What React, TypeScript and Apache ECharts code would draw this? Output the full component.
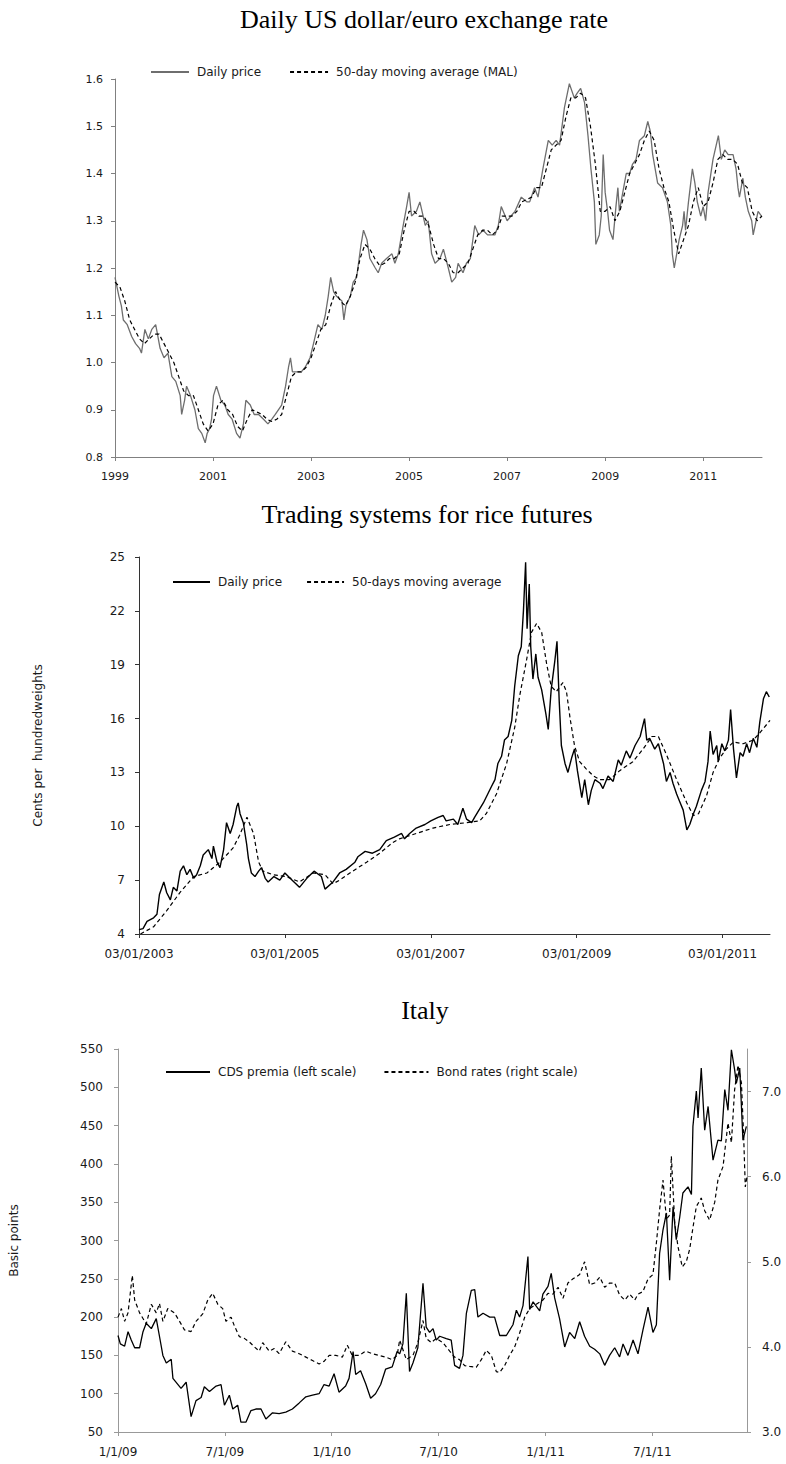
import { useEffect, useRef } from "react";
import * as echarts from "echarts";

// ---------- Chart 1: Daily US dollar/euro exchange rate ----------
const usdDaily: [number, number][] = [
  [1999.0, 1.18], [1999.04, 1.16], [1999.08, 1.14], [1999.13, 1.12], [1999.17, 1.09], [1999.25, 1.08],
  [1999.34, 1.055], [1999.42, 1.04], [1999.5, 1.03], [1999.54, 1.02], [1999.61, 1.07], [1999.68, 1.05],
  [1999.75, 1.07], [1999.83, 1.08], [1999.92, 1.03], [2000.0, 1.01], [2000.08, 1.02], [2000.16, 0.97],
  [2000.24, 0.96], [2000.33, 0.93], [2000.36, 0.89], [2000.42, 0.92], [2000.46, 0.95], [2000.54, 0.93],
  [2000.63, 0.9], [2000.7, 0.86], [2000.77, 0.85], [2000.84, 0.83], [2000.88, 0.85], [2000.93, 0.86],
  [2000.97, 0.88], [2001.01, 0.93], [2001.07, 0.95], [2001.16, 0.92], [2001.24, 0.91], [2001.31, 0.89],
  [2001.39, 0.88], [2001.48, 0.85], [2001.55, 0.84], [2001.62, 0.87], [2001.67, 0.92], [2001.76, 0.91],
  [2001.84, 0.89], [2001.93, 0.89], [2002.03, 0.88], [2002.12, 0.87], [2002.2, 0.88], [2002.27, 0.89],
  [2002.4, 0.91], [2002.48, 0.95], [2002.54, 0.99], [2002.58, 1.01], [2002.62, 0.98], [2002.71, 0.98],
  [2002.8, 0.98], [2002.88, 0.99], [2002.98, 1.01], [2003.05, 1.04], [2003.14, 1.08], [2003.22, 1.07],
  [2003.29, 1.1], [2003.35, 1.14], [2003.4, 1.18], [2003.46, 1.15], [2003.52, 1.14], [2003.63, 1.13],
  [2003.67, 1.09], [2003.71, 1.12], [2003.8, 1.14], [2003.86, 1.17], [2003.93, 1.18], [2004.02, 1.25],
  [2004.07, 1.28], [2004.14, 1.26], [2004.2, 1.22], [2004.31, 1.2], [2004.37, 1.19], [2004.44, 1.21],
  [2004.54, 1.22], [2004.65, 1.23], [2004.71, 1.21], [2004.78, 1.23], [2004.88, 1.29], [2004.95, 1.33],
  [2005.0, 1.36], [2005.05, 1.31], [2005.15, 1.32], [2005.22, 1.34], [2005.33, 1.29], [2005.39, 1.3],
  [2005.46, 1.23], [2005.53, 1.21], [2005.63, 1.22], [2005.7, 1.24], [2005.8, 1.2], [2005.87, 1.17],
  [2005.95, 1.18], [2006.0, 1.21], [2006.1, 1.19], [2006.17, 1.21], [2006.25, 1.22], [2006.34, 1.29],
  [2006.42, 1.27], [2006.51, 1.28], [2006.6, 1.27], [2006.75, 1.27], [2006.82, 1.29], [2006.88, 1.33],
  [2007.0, 1.3], [2007.08, 1.31], [2007.16, 1.32], [2007.29, 1.35], [2007.4, 1.34], [2007.46, 1.34],
  [2007.56, 1.37], [2007.63, 1.35], [2007.73, 1.41], [2007.84, 1.47], [2007.92, 1.46], [2008.0, 1.47],
  [2008.07, 1.46], [2008.17, 1.54], [2008.27, 1.59], [2008.37, 1.56], [2008.43, 1.57], [2008.5, 1.58],
  [2008.58, 1.55], [2008.65, 1.48], [2008.71, 1.41], [2008.78, 1.34], [2008.81, 1.25], [2008.88, 1.27],
  [2008.92, 1.31], [2008.96, 1.44], [2009.0, 1.36], [2009.05, 1.32], [2009.09, 1.28], [2009.16, 1.26],
  [2009.22, 1.33], [2009.26, 1.37], [2009.29, 1.32], [2009.36, 1.36], [2009.43, 1.4], [2009.5, 1.4],
  [2009.56, 1.42], [2009.63, 1.43], [2009.7, 1.47], [2009.8, 1.48], [2009.87, 1.51], [2009.92, 1.49],
  [2009.97, 1.44], [2010.07, 1.38], [2010.17, 1.37], [2010.27, 1.34], [2010.34, 1.29], [2010.37, 1.23],
  [2010.41, 1.2], [2010.46, 1.23], [2010.51, 1.26], [2010.58, 1.29], [2010.61, 1.32], [2010.64, 1.28],
  [2010.7, 1.34], [2010.78, 1.41], [2010.83, 1.38], [2010.88, 1.34], [2010.95, 1.31], [2011.0, 1.33],
  [2011.05, 1.3], [2011.1, 1.36], [2011.2, 1.43], [2011.31, 1.48], [2011.37, 1.43], [2011.44, 1.45],
  [2011.51, 1.44], [2011.61, 1.44], [2011.67, 1.41], [2011.71, 1.37], [2011.74, 1.35], [2011.81, 1.39],
  [2011.86, 1.35], [2011.92, 1.32], [2011.99, 1.3], [2012.02, 1.27], [2012.08, 1.3], [2012.12, 1.32],
  [2012.19, 1.31],
];
const usdMA: [number, number][] = [
  [1999.0, 1.17], [1999.1, 1.16], [1999.2, 1.13], [1999.3, 1.09], [1999.4, 1.07], [1999.5, 1.05],
  [1999.6, 1.04], [1999.7, 1.05], [1999.8, 1.06], [1999.9, 1.06], [2000.0, 1.04], [2000.1, 1.02],
  [2000.2, 1.0], [2000.3, 0.97], [2000.4, 0.94], [2000.5, 0.93], [2000.6, 0.93], [2000.7, 0.9],
  [2000.8, 0.87], [2000.9, 0.855], [2001.0, 0.87], [2001.1, 0.91], [2001.2, 0.92], [2001.3, 0.9],
  [2001.4, 0.89], [2001.5, 0.865], [2001.6, 0.855], [2001.7, 0.88], [2001.8, 0.9], [2001.9, 0.895],
  [2002.0, 0.89], [2002.1, 0.88], [2002.2, 0.875], [2002.3, 0.88], [2002.4, 0.89], [2002.5, 0.93],
  [2002.6, 0.97], [2002.7, 0.98], [2002.8, 0.98], [2002.9, 0.99], [2003.0, 1.01], [2003.1, 1.04],
  [2003.2, 1.07], [2003.3, 1.08], [2003.4, 1.12], [2003.5, 1.15], [2003.6, 1.13], [2003.7, 1.12],
  [2003.8, 1.14], [2003.9, 1.17], [2004.0, 1.22], [2004.1, 1.25], [2004.2, 1.24], [2004.3, 1.22],
  [2004.4, 1.205], [2004.5, 1.21], [2004.6, 1.22], [2004.7, 1.22], [2004.8, 1.23], [2004.9, 1.28],
  [2005.0, 1.32], [2005.1, 1.32], [2005.2, 1.31], [2005.3, 1.31], [2005.4, 1.29], [2005.5, 1.25],
  [2005.6, 1.22], [2005.7, 1.22], [2005.8, 1.21], [2005.9, 1.19], [2006.0, 1.19], [2006.1, 1.2],
  [2006.2, 1.21], [2006.3, 1.24], [2006.4, 1.27], [2006.5, 1.28], [2006.6, 1.28], [2006.7, 1.27],
  [2006.8, 1.28], [2006.9, 1.31], [2007.0, 1.31], [2007.1, 1.31], [2007.2, 1.32], [2007.3, 1.34],
  [2007.4, 1.345], [2007.5, 1.35], [2007.6, 1.37], [2007.7, 1.37], [2007.8, 1.41], [2007.9, 1.45],
  [2008.0, 1.46], [2008.1, 1.47], [2008.2, 1.52], [2008.3, 1.56], [2008.4, 1.56], [2008.5, 1.57],
  [2008.6, 1.56], [2008.7, 1.5], [2008.8, 1.42], [2008.9, 1.32], [2009.0, 1.32], [2009.1, 1.33],
  [2009.2, 1.3], [2009.3, 1.32], [2009.4, 1.36], [2009.5, 1.4], [2009.6, 1.42], [2009.7, 1.44],
  [2009.8, 1.47], [2009.9, 1.49], [2010.0, 1.47], [2010.1, 1.41], [2010.2, 1.37], [2010.3, 1.34],
  [2010.4, 1.28], [2010.5, 1.23], [2010.6, 1.26], [2010.7, 1.29], [2010.8, 1.34], [2010.9, 1.37],
  [2011.0, 1.33], [2011.1, 1.34], [2011.2, 1.38], [2011.3, 1.43], [2011.4, 1.44], [2011.5, 1.43],
  [2011.6, 1.43], [2011.7, 1.42], [2011.8, 1.38], [2011.9, 1.37], [2012.0, 1.32], [2012.1, 1.3],
  [2012.2, 1.31],
];
const usdXTicks = [1999, 2001, 2003, 2005, 2007, 2009, 2011];
const usdYTicks = [0.8, 0.9, 1.0, 1.1, 1.2, 1.3, 1.4, 1.5, 1.6];

// ---------- Chart 2: Trading systems for rice futures ----------
const riceDaily: [number, number][] = [
  [2003.0, 4.24], [2003.055, 4.3], [2003.11, 4.7], [2003.155, 4.8], [2003.2, 4.9], [2003.246, 5.1],
  [2003.28, 6.2], [2003.34, 6.9], [2003.38, 6.3], [2003.43, 5.9], [2003.47, 6.6], [2003.52, 6.4],
  [2003.565, 7.5], [2003.61, 7.8], [2003.656, 7.3], [2003.7, 7.6], [2003.75, 7.1], [2003.79, 7.3],
  [2003.84, 7.8], [2003.88, 8.4], [2003.95, 8.7], [2004.0, 8.2], [2004.02, 8.9], [2004.07, 8.0],
  [2004.11, 7.7], [2004.16, 8.7], [2004.2, 10.2], [2004.25, 9.6], [2004.29, 10.1], [2004.34, 11.1],
  [2004.36, 11.3], [2004.385, 10.7], [2004.43, 10.2], [2004.476, 9.0], [2004.5, 8.2], [2004.54, 7.4],
  [2004.59, 7.2], [2004.64, 7.5], [2004.68, 7.7], [2004.73, 7.1], [2004.77, 6.9], [2004.85, 7.2],
  [2004.93, 7.0], [2005.0, 7.4], [2005.1, 7.0], [2005.2, 6.6], [2005.3, 7.1], [2005.4, 7.5],
  [2005.5, 7.2], [2005.55, 6.5], [2005.66, 6.9], [2005.75, 7.4], [2005.84, 7.6], [2005.96, 8.0],
  [2006.0, 8.3], [2006.1, 8.6], [2006.2, 8.5], [2006.3, 8.7], [2006.39, 9.2], [2006.5, 9.4],
  [2006.6, 9.6], [2006.64, 9.3], [2006.71, 9.6], [2006.8, 9.9], [2006.92, 10.1], [2007.0, 10.3],
  [2007.1, 10.5], [2007.17, 10.6], [2007.21, 10.3], [2007.31, 10.4], [2007.37, 10.1], [2007.44, 11.0],
  [2007.49, 10.4], [2007.56, 10.2], [2007.6, 10.5], [2007.72, 11.3], [2007.83, 12.2], [2007.88, 12.6],
  [2007.92, 13.5], [2007.97, 13.9], [2008.01, 14.8], [2008.06, 15.0], [2008.11, 15.9], [2008.15, 17.8],
  [2008.2, 19.5], [2008.24, 20.0], [2008.27, 22.0], [2008.3, 24.7], [2008.32, 21.0], [2008.35, 23.5],
  [2008.37, 20.0], [2008.4, 18.2], [2008.44, 19.6], [2008.47, 18.3], [2008.52, 17.6], [2008.58, 16.2],
  [2008.61, 15.4], [2008.65, 17.6], [2008.7, 19.2], [2008.73, 20.3], [2008.76, 17.0], [2008.79, 14.5],
  [2008.84, 13.5], [2008.88, 13.0], [2008.93, 13.8], [2008.97, 14.3], [2009.01, 13.1], [2009.07, 11.6],
  [2009.11, 12.6], [2009.16, 11.2], [2009.2, 12.0], [2009.25, 12.6], [2009.32, 12.4], [2009.36, 12.1],
  [2009.43, 12.8], [2009.5, 12.5], [2009.57, 13.7], [2009.61, 13.4], [2009.68, 14.2], [2009.73, 13.8],
  [2009.8, 14.5], [2009.87, 15.0], [2009.93, 16.0], [2009.96, 14.8], [2010.0, 14.9], [2010.07, 14.3],
  [2010.12, 14.6], [2010.19, 13.5], [2010.23, 12.5], [2010.28, 13.0], [2010.32, 12.4], [2010.37, 11.8],
  [2010.41, 11.4], [2010.46, 10.9], [2010.51, 9.8], [2010.55, 10.1], [2010.6, 10.7], [2010.64, 11.1],
  [2010.71, 12.0], [2010.76, 12.5], [2010.8, 13.6], [2010.83, 15.3], [2010.87, 14.0], [2010.92, 14.5],
  [2010.94, 13.6], [2010.99, 14.6], [2011.03, 14.2], [2011.08, 14.8], [2011.11, 16.5], [2011.15, 14.3],
  [2011.19, 12.7], [2011.24, 14.1], [2011.28, 13.9], [2011.33, 14.6], [2011.37, 14.1], [2011.42, 14.9],
  [2011.47, 14.4], [2011.51, 15.8], [2011.56, 17.1], [2011.6, 17.5], [2011.64, 17.2],
];
const riceMA: [number, number][] = [
  [2003.02, 4.0], [2003.2, 4.4], [2003.38, 5.3], [2003.56, 6.3], [2003.75, 7.2], [2003.93, 7.4],
  [2004.11, 8.0], [2004.29, 8.8], [2004.38, 9.5], [2004.48, 10.5], [2004.57, 9.6], [2004.64, 8.0],
  [2004.7, 7.5], [2004.84, 7.3], [2005.02, 7.2], [2005.2, 6.9], [2005.39, 7.4], [2005.55, 7.3],
  [2005.66, 6.8], [2005.75, 7.0], [2005.93, 7.5], [2006.12, 8.0], [2006.3, 8.5], [2006.48, 9.1],
  [2006.57, 9.3], [2006.8, 9.6], [2007.03, 9.9], [2007.26, 10.1], [2007.49, 10.2], [2007.67, 10.3],
  [2007.76, 10.7], [2007.9, 11.8], [2008.04, 13.5], [2008.15, 15.5], [2008.22, 17.3], [2008.31, 19.2],
  [2008.38, 20.8], [2008.45, 21.3], [2008.52, 20.8], [2008.59, 19.0], [2008.65, 17.8], [2008.72, 17.5],
  [2008.81, 18.0], [2008.86, 17.5], [2008.91, 16.0], [2008.97, 14.5], [2009.04, 13.6], [2009.13, 13.2],
  [2009.23, 12.8], [2009.32, 12.6], [2009.45, 12.6], [2009.59, 13.1], [2009.77, 13.6], [2009.91, 14.3],
  [2010.03, 15.0], [2010.12, 15.0], [2010.23, 14.0], [2010.37, 12.6], [2010.51, 11.3], [2010.6, 10.6],
  [2010.67, 10.7], [2010.78, 11.7], [2010.87, 13.0], [2010.96, 13.8], [2011.05, 14.3], [2011.15, 14.7],
  [2011.28, 14.6], [2011.42, 14.8], [2011.51, 15.2], [2011.65, 15.9],
];
const riceXTicks = [2003, 2005, 2007, 2009, 2011];
const riceYTicks = [4, 7, 10, 13, 16, 19, 22, 25];

// ---------- Chart 3: Italy ----------
const italyCDS: [number, number][] = [
  [2009.0, 176], [2009.011, 165], [2009.031, 162], [2009.047, 181], [2009.062, 170], [2009.078, 160],
  [2009.101, 160], [2009.117, 181], [2009.132, 192], [2009.156, 185], [2009.179, 198], [2009.194, 175],
  [2009.21, 150], [2009.226, 140], [2009.249, 145], [2009.257, 120], [2009.295, 107], [2009.319, 115],
  [2009.342, 70], [2009.365, 91], [2009.389, 95], [2009.404, 109], [2009.428, 103], [2009.459, 110],
  [2009.482, 112], [2009.498, 85], [2009.521, 98], [2009.537, 80], [2009.56, 85], [2009.575, 63],
  [2009.599, 63], [2009.622, 78], [2009.645, 80], [2009.669, 80], [2009.692, 67], [2009.723, 75],
  [2009.754, 74], [2009.785, 76], [2009.816, 80], [2009.848, 88], [2009.879, 96], [2009.91, 98],
  [2009.941, 100], [2009.964, 112], [2009.988, 110], [2010.011, 126], [2010.034, 102], [2010.065, 110],
  [2010.081, 120], [2010.1, 155], [2010.112, 125], [2010.135, 130], [2010.159, 113], [2010.182, 94],
  [2010.205, 100], [2010.229, 112], [2010.252, 132], [2010.283, 135], [2010.306, 155], [2010.318, 152],
  [2010.333, 165], [2010.349, 231], [2010.364, 129], [2010.38, 140], [2010.403, 160], [2010.427, 244],
  [2010.442, 187], [2010.458, 180], [2010.474, 185], [2010.489, 170], [2010.505, 175], [2010.536, 172],
  [2010.559, 170], [2010.575, 137], [2010.598, 133], [2010.614, 150], [2010.63, 205], [2010.653, 235],
  [2010.669, 236], [2010.684, 200], [2010.708, 205], [2010.739, 200], [2010.762, 200], [2010.786, 176],
  [2010.817, 176], [2010.848, 190], [2010.864, 209], [2010.879, 200], [2010.895, 215], [2010.918, 279],
  [2010.926, 210], [2010.942, 220], [2010.973, 208], [2010.988, 230], [2011.012, 240], [2011.027, 257],
  [2011.043, 225], [2011.066, 198], [2011.09, 161], [2011.113, 180], [2011.137, 172], [2011.16, 194],
  [2011.183, 175], [2011.207, 162], [2011.23, 158], [2011.254, 152], [2011.277, 137], [2011.3, 150],
  [2011.324, 160], [2011.347, 148], [2011.363, 165], [2011.386, 150], [2011.41, 170], [2011.433, 152],
  [2011.456, 183], [2011.48, 213], [2011.503, 180], [2011.519, 190], [2011.534, 283], [2011.55, 314],
  [2011.566, 336], [2011.581, 248], [2011.597, 344], [2011.612, 301], [2011.628, 330], [2011.643, 362],
  [2011.667, 370], [2011.683, 360], [2011.69, 449], [2011.706, 495], [2011.714, 460], [2011.729, 525],
  [2011.745, 444], [2011.761, 475], [2011.784, 405], [2011.807, 431], [2011.823, 430], [2011.839, 497],
  [2011.854, 470], [2011.87, 549], [2011.885, 523], [2011.893, 505], [2011.909, 525], [2011.924, 431],
  [2011.94, 449],
];
const italyBond: [number, number][] = [
  [2009.0, 4.35], [2009.016, 4.45], [2009.031, 4.3], [2009.047, 4.4], [2009.067, 4.84], [2009.078, 4.55],
  [2009.101, 4.4], [2009.132, 4.27], [2009.156, 4.5], [2009.179, 4.4], [2009.194, 4.51], [2009.21, 4.3],
  [2009.233, 4.45], [2009.264, 4.4], [2009.288, 4.3], [2009.311, 4.2], [2009.342, 4.18], [2009.365, 4.3],
  [2009.397, 4.39], [2009.42, 4.55], [2009.443, 4.63], [2009.467, 4.5], [2009.49, 4.45], [2009.505, 4.3],
  [2009.529, 4.35], [2009.544, 4.25], [2009.568, 4.12], [2009.591, 4.1], [2009.614, 4.06], [2009.638, 4.0],
  [2009.661, 3.95], [2009.677, 4.05], [2009.708, 3.95], [2009.731, 3.98], [2009.754, 3.92], [2009.785, 4.06],
  [2009.816, 3.95], [2009.848, 3.92], [2009.879, 3.88], [2009.91, 3.84], [2009.941, 3.8], [2009.964, 3.83],
  [2009.988, 3.9], [2010.019, 3.9], [2010.05, 3.88], [2010.073, 4.02], [2010.096, 3.9], [2010.128, 3.9],
  [2010.159, 3.95], [2010.19, 3.92], [2010.221, 3.9], [2010.252, 3.88], [2010.283, 3.85], [2010.306, 3.9],
  [2010.318, 4.08], [2010.349, 3.85], [2010.38, 3.9], [2010.403, 4.05], [2010.427, 4.31], [2010.442, 4.1],
  [2010.466, 4.05], [2010.489, 4.1], [2010.52, 4.05], [2010.552, 3.95], [2010.575, 3.88], [2010.598, 3.85],
  [2010.622, 3.78], [2010.645, 3.77], [2010.676, 3.76], [2010.7, 3.85], [2010.723, 3.96], [2010.747, 3.9],
  [2010.77, 3.71], [2010.786, 3.7], [2010.809, 3.78], [2010.832, 3.9], [2010.856, 4.0], [2010.879, 4.16],
  [2010.903, 4.35], [2010.926, 4.45], [2010.957, 4.5], [2010.988, 4.55], [2011.012, 4.63], [2011.035, 4.62],
  [2011.059, 4.7], [2011.082, 4.57], [2011.105, 4.75], [2011.129, 4.8], [2011.16, 4.85], [2011.183, 5.0],
  [2011.207, 4.73], [2011.23, 4.75], [2011.254, 4.82], [2011.277, 4.7], [2011.3, 4.75], [2011.324, 4.75],
  [2011.347, 4.61], [2011.371, 4.55], [2011.394, 4.62], [2011.418, 4.55], [2011.433, 4.62], [2011.456, 4.65],
  [2011.48, 4.8], [2011.503, 4.85], [2011.519, 5.22], [2011.534, 5.61], [2011.55, 5.96], [2011.566, 5.5],
  [2011.581, 5.55], [2011.589, 6.24], [2011.605, 5.45], [2011.62, 5.18], [2011.64, 4.94], [2011.659, 5.0],
  [2011.675, 5.15], [2011.69, 5.4], [2011.706, 5.65], [2011.729, 5.75], [2011.745, 5.6], [2011.768, 5.49],
  [2011.792, 5.7], [2011.807, 5.96], [2011.831, 6.12], [2011.854, 6.63], [2011.87, 6.4], [2011.885, 7.02],
  [2011.901, 7.31], [2011.917, 7.1], [2011.927, 6.5], [2011.935, 5.88], [2011.943, 6.0],
];
const italyXTicks = [2009, 2009.5, 2010, 2010.5, 2011, 2011.5];
const italyLeftTicks = [50, 100, 150, 200, 250, 300, 350, 400, 450, 500, 550];
const italyRightTicks = [3, 4, 5, 6, 7];

// ---------- shared styling ----------
const SANS = '"DejaVu Sans", sans-serif';
const SERIF = '"Liberation Serif", "Times New Roman", serif';

function axisBase(color: string, ticks: number[], fontSize: number, formatter: (v: number) => string, margin: number) {
  return {
    type: "value" as const,
    axisLine: { show: true, onZero: false, lineStyle: { color, width: 1 } },
    axisTick: { show: true, length: 4, customValues: ticks, lineStyle: { color, width: 1 } },
    axisLabel: {
      customValues: ticks,
      formatter,
      fontFamily: SANS,
      fontSize,
      color: "#1a1a1a",
      margin,
    },
    splitLine: { show: false },
  };
}

function titleGraphic(text: string, x: number, y: number) {
  return {
    type: "text",
    x,
    y,
    silent: true,
    style: {
      text,
      font: `26px ${SERIF}`,
      fill: "#000",
      align: "center",
      verticalAlign: "middle",
    },
  };
}

function legendBase(left: number, top: number, itemWidth: number, itemGap: number, names: string[]) {
  return {
    left,
    top,
    itemWidth,
    itemHeight: 10,
    itemGap,
    orient: "horizontal",
    data: names,
    itemStyle: { opacity: 0 },
    textStyle: { fontFamily: SANS, fontSize: 12, color: "#1a1a1a", padding: [0, 0, 0, 3] },
  };
}

const option1 = {
  animation: false,
  backgroundColor: "#fff",
  graphic: [titleGraphic("Daily US dollar/euro exchange rate", 424, 19)],
  legend: legendBase(145, 61, 38, 28, ["Daily price", "50-day moving average (MAL)"]),
  grid: { left: 115, right: 24, top: 79, height: 378 },
  xAxis: { ...axisBase("#808080", usdXTicks, 11, (v: number) => String(Math.round(v)), 14), min: 1999, max: 2012.2 },
  yAxis: { ...axisBase("#808080", usdYTicks, 11, (v: number) => v.toFixed(1), 12), min: 0.8, max: 1.6 },
  series: [
    {
      type: "line",
      name: "Daily price",
      data: usdDaily,
      symbol: "none",
      lineStyle: { color: "#6e6e6e", width: 1.3 },
      itemStyle: { color: "#6e6e6e" },
    },
    {
      type: "line",
      name: "50-day moving average (MAL)",
      data: usdMA,
      symbol: "none",
      lineStyle: { color: "#000", width: 1.2, type: [4, 3] },
      itemStyle: { color: "#000" },
    },
  ],
};

const option2 = {
  animation: false,
  backgroundColor: "#fff",
  graphic: [titleGraphic("Trading systems for rice futures", 427, 24)],
  legend: legendBase(167, 81, 37, 24, ["Daily price", "50-days moving average"]),
  grid: { left: 139, right: 16, top: 67, height: 381 },
  xAxis: { ...axisBase("#333", riceXTicks, 12, (v: number) => `03/01/${Math.round(v)}`, 14), min: 2003, max: 2011.65 },
  yAxis: {
    ...axisBase("#333", riceYTicks, 12, (v: number) => String(v), 14),
    min: 4,
    max: 25,
    name: "Cents per  hundredweights",
    nameLocation: "middle",
    nameGap: 95,
    nameRotate: 90,
    nameTextStyle: { fontFamily: SANS, fontSize: 12, color: "#1a1a1a" },
  },
  series: [
    {
      type: "line",
      name: "Daily price",
      data: riceDaily,
      symbol: "none",
      lineStyle: { color: "#000", width: 1.4 },
      itemStyle: { color: "#000" },
    },
    {
      type: "line",
      name: "50-days moving average",
      data: riceMA,
      symbol: "none",
      lineStyle: { color: "#000", width: 1.2, type: [4, 3] },
      itemStyle: { color: "#000" },
    },
  ],
};

function italyXLabel(v: number) {
  const yr = Math.floor(v + 1e-6);
  const half = v - yr > 0.25;
  return `${half ? 7 : 1}/1/${String(yr % 100).padStart(2, "0")}`;
}

const option3 = {
  animation: false,
  backgroundColor: "#fff",
  graphic: [titleGraphic("Italy", 425, 50)],
  legend: legendBase(160, 101, 44, 27, ["CDS premia (left scale)", "Bond rates (right scale)"]),
  grid: { left: 118, right: 39, top: 89, height: 383 },
  xAxis: { ...axisBase("#999", italyXTicks, 12, italyXLabel, 14), min: 2009, max: 2011.943 },
  yAxis: [
    {
      ...axisBase("#999", italyLeftTicks, 12, (v: number) => String(v), 15),
      min: 50,
      max: 550,
      position: "left",
      name: "Basic points",
      nameLocation: "middle",
      nameGap: 98,
      nameRotate: 90,
      nameTextStyle: { fontFamily: SANS, fontSize: 12, color: "#1a1a1a" },
    },
    {
      ...axisBase("#999", italyRightTicks, 12, (v: number) => v.toFixed(1), 15),
      min: 3,
      max: 7.5,
      position: "right",
    },
  ],
  series: [
    {
      type: "line",
      name: "CDS premia (left scale)",
      data: italyCDS,
      yAxisIndex: 0,
      symbol: "none",
      lineStyle: { color: "#000", width: 1.3 },
      itemStyle: { color: "#000" },
    },
    {
      type: "line",
      name: "Bond rates (right scale)",
      data: italyBond,
      yAxisIndex: 1,
      symbol: "none",
      lineStyle: { color: "#000", width: 1.2, type: [4, 3] },
      itemStyle: { color: "#000" },
    },
  ],
};

function ChartBox({ option, top, height }: { option: any; top: number; height: number }) {
  const ref = useRef<HTMLDivElement>(null);
  useEffect(() => {
    if (!ref.current) return;
    const chart = echarts.init(ref.current, undefined, { renderer: "svg" });
    chart.setOption(option);
    return () => chart.dispose();
  }, [option]);
  return <div ref={ref} style={{ position: "absolute", left: 0, top, width: 786, height }} />;
}

export default function App() {
  return (
    <div style={{ position: "absolute", left: 0, top: 0, width: 786, height: 1464, background: "#fff" }}>
      <ChartBox option={option1} top={0} height={490} />
      <ChartBox option={option2} top={490} height={470} />
      <ChartBox option={option3} top={960} height={504} />
    </div>
  );
}
